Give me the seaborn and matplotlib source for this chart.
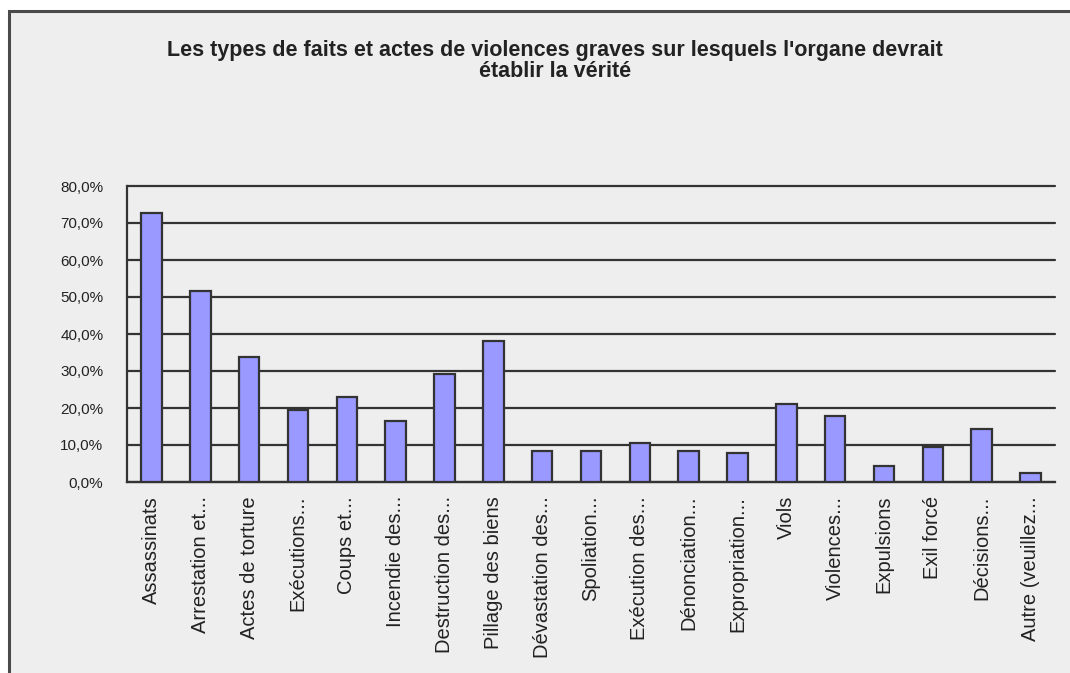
import matplotlib
matplotlib.use("Agg")
import matplotlib.pyplot as plt
from matplotlib.patches import Rectangle
from matplotlib.ticker import FixedLocator, FuncFormatter
import seaborn as sns
import pandas as pd
import numpy as np

categories = [
    "Assassinats", "Arrestation et...", "Actes de torture", "Exécutions...",
    "Coups et...", "Incendie des...", "Destruction des...", "Pillage des biens",
    "Dévastation des...", "Spoliation...", "Exécution des...", "Dénonciation...",
    "Expropriation...", "Viols", "Violences...", "Expulsions", "Exil forcé",
    "Décisions...", "Autre (veuillez...",
]
values = [72.8, 51.7, 33.9, 19.5, 23.1, 16.4, 29.2, 38.2, 8.5, 8.5,
          10.5, 8.5, 7.8, 21.1, 17.8, 4.3, 9.4, 14.2, 2.3]
y_ticks = [0, 10, 20, 30, 40, 50, 60, 70, 80]
title = "Les types de faits et actes de violences graves sur lesquels l'organe devrait\nétablir la vérité"

sns.set_style("white")
plt.rcParams["font.family"] = ["Liberation Sans", "DejaVu Sans"]

dark = "#333333"
bg = "#eeeeee"

fig = plt.figure(figsize=(10.7, 6.73), dpi=100, facecolor="white")

# panel background with a frame on its top and left edges
frame = Rectangle((9 / 1070, -0.05), 1.2, 1 - 11 / 673 + 0.05,
                  transform=fig.transFigure, facecolor=bg,
                  edgecolor="#4a4a4a", linewidth=2.2, zorder=-10)
fig.add_artist(frame)

ax = fig.add_axes([127 / 1070, 1 - 482 / 673, (1055 - 127) / 1070, (482 - 186) / 673])
ax.patch.set_alpha(0)

df = pd.DataFrame({"cat": categories, "val": values})
sns.barplot(data=df, x="cat", y="val", color="#9999ff", saturation=1,
            width=0.42, edgecolor=dark, linewidth=1.6, ax=ax, zorder=3)

ax.set_ylim(0, 80)
ax.set_xlim(-0.5, len(categories) - 0.5)
ax.yaxis.set_major_locator(FixedLocator(y_ticks))
ax.yaxis.set_major_formatter(FuncFormatter(lambda v, _: f"{v:.1f}%".replace(".", ",")))
ax.grid(axis="y", color=dark, linewidth=1.6, zorder=0)
ax.set_axisbelow(True)
for gl in ax.get_ygridlines():
    gl.set_clip_on(False)

for side in ["top", "right"]:
    ax.spines[side].set_visible(False)
for side in ["left", "bottom"]:
    ax.spines[side].set_color(dark)
    ax.spines[side].set_linewidth(1.6)

ax.tick_params(axis="y", direction="out", length=9, width=1.6, color=dark,
               labelsize=11, pad=8, labelcolor="#222222")
ax.tick_params(axis="x", which="major", length=0, labelsize=14.5, pad=10,
               labelrotation=90, labelcolor="#222222")
ax.set_xticks(np.arange(-0.5, len(categories), 1.0), minor=True)
ax.tick_params(axis="x", which="minor", direction="out", length=8, width=1.6, color=dark)
for lbl in ax.get_xticklabels():
    lbl.set_va("top")
ax.set_xlabel("")
ax.set_ylabel("")

fig.text(555 / 1070, 1 - 40 / 673, title, ha="center", va="top",
         fontsize=15.5, fontweight="bold", color="#222222", linespacing=1.0)

fig.savefig("out.png", dpi=100, facecolor=fig.get_facecolor())
